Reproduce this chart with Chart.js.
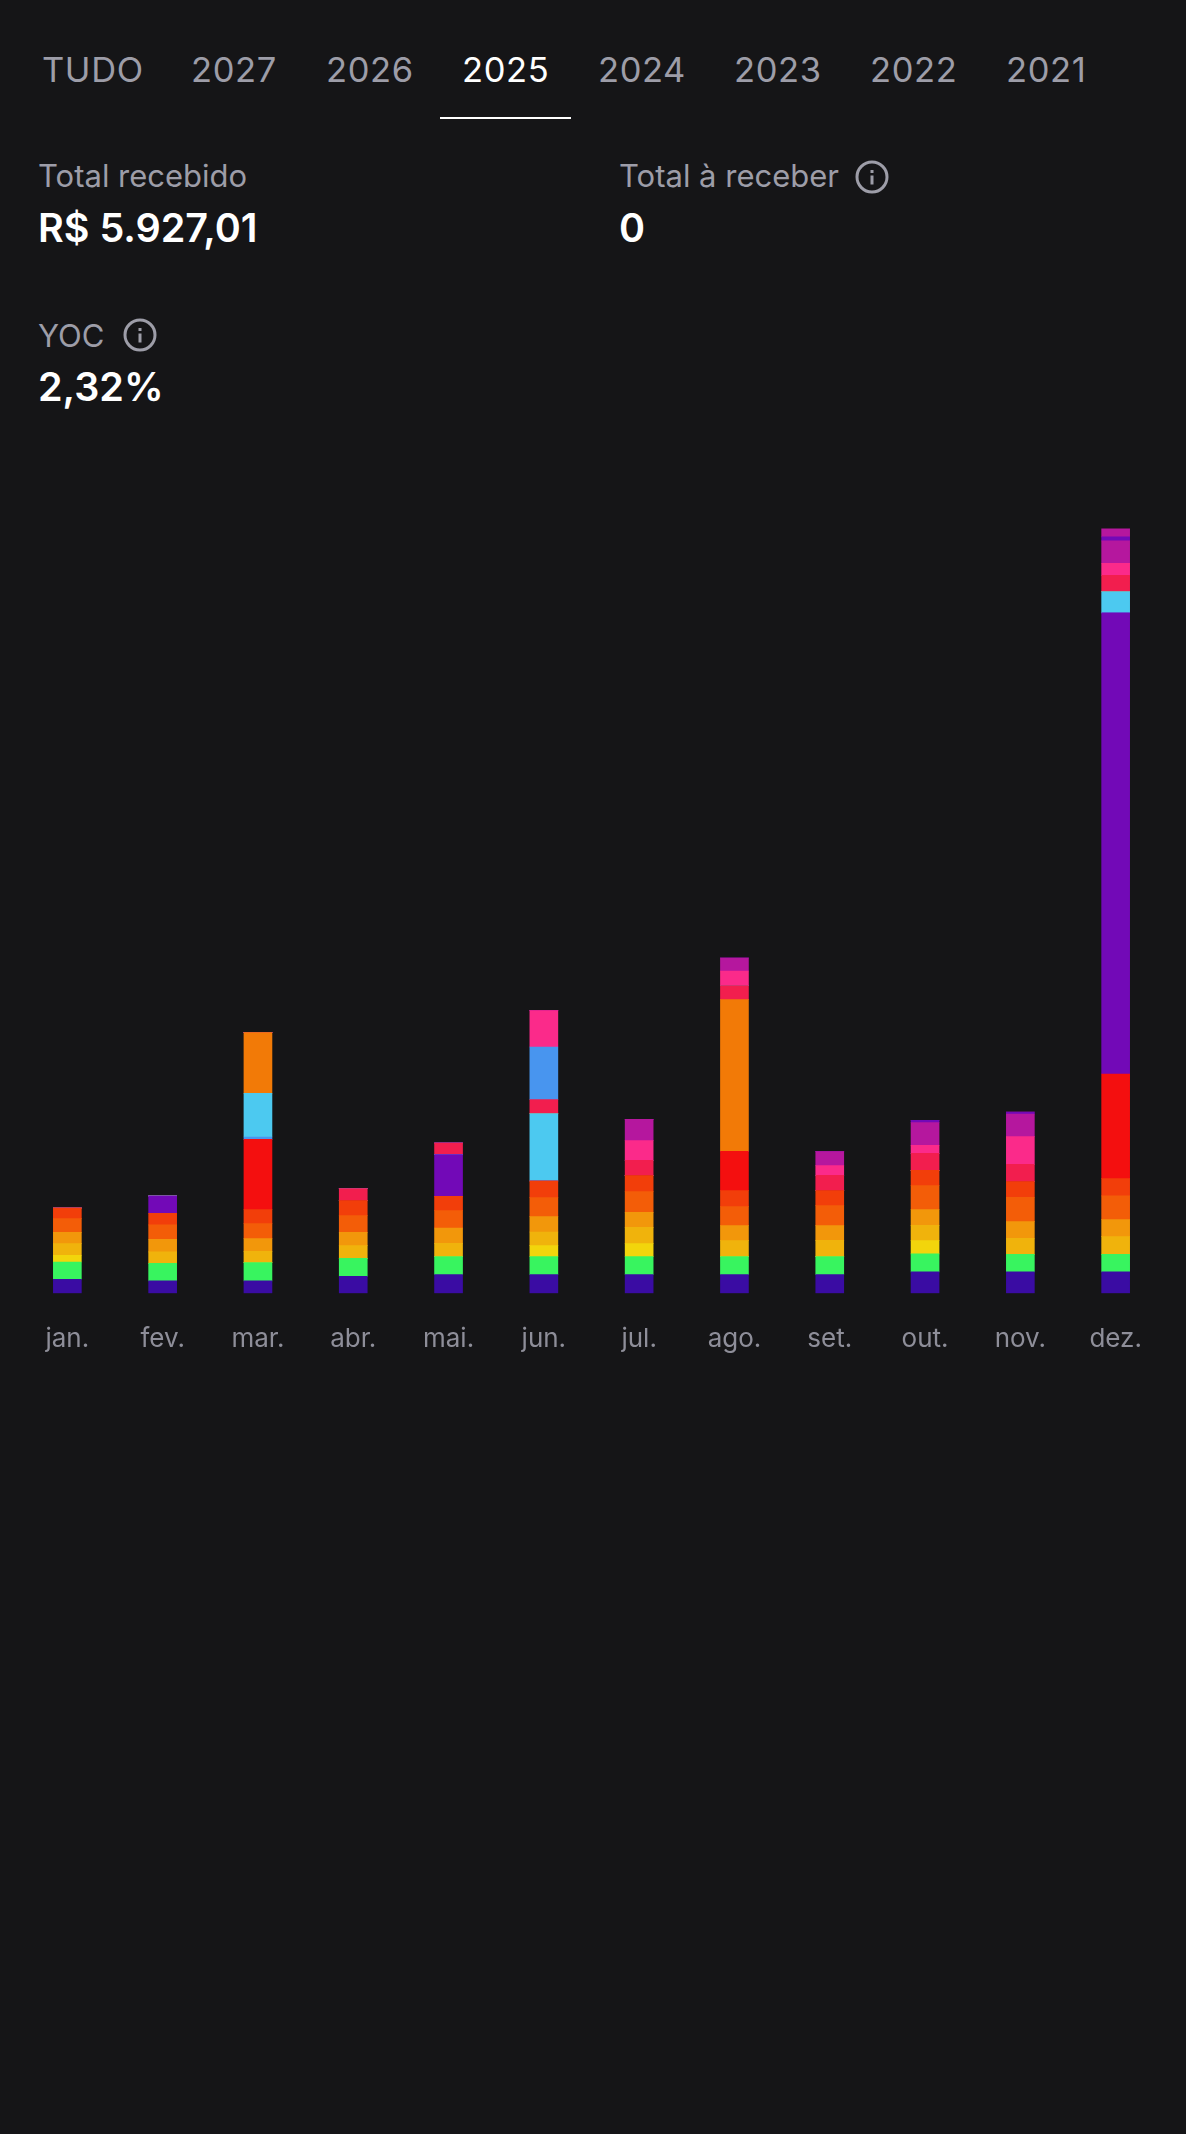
<!DOCTYPE html>
<html lang="pt-BR">
<head>
<meta charset="utf-8">
<title>Proventos 2025</title>
<script src="https://cdn.jsdelivr.net/npm/chart.js@4"></script>
<style>
html, body { margin: 0; padding: 0; background: #151517; }
body { position: relative; width: 1186px; height: 2134px; overflow: hidden; font-family: Inter, sans-serif; }
.t { position: absolute; white-space: nowrap; line-height: 1; transform: translateY(-50%); }
.tab { font-size: 34.5px; font-weight: 400; color: #9d9da8; top: 70px; letter-spacing: 0.6px; }
.tab.on { color: #fff; }
.label { font-size: 31px; color: #9d9da8; }
.value { font-size: 39.5px; font-weight: 600; color: #fff; }
#under { position: absolute; left: 440px; top: 117px; width: 131px; height: 2px; background: #fff; }
svg.i { position: absolute; width: 34px; height: 34px; }
#barChart { position: absolute; left: 0; top: 500px; }
</style>
</head>
<body>
<span class="t tab" style="left:42px">TUDO</span>
<span class="t tab" style="left:191px">2027</span>
<span class="t tab" style="left:326px">2026</span>
<span class="t tab on" style="left:462px">2025</span>
<span class="t tab" style="left:598px">2024</span>
<span class="t tab" style="left:734px">2023</span>
<span class="t tab" style="left:870px">2022</span>
<span class="t tab" style="left:1006px">2021</span>
<div id="under"></div>

<span class="t label" style="left:38px;top:175px">Total recebido</span>
<span class="t value" style="left:38px;top:229px">R$ 5.927,01</span>
<span class="t label" style="left:619px;top:175px">Total à receber</span>
<svg class="i" style="left:855px;top:160px" viewBox="0 0 34 34"><circle cx="17" cy="17" r="15" fill="none" stroke="#9d9da8" stroke-width="3"/><rect x="15.5" y="15.5" width="3" height="9" fill="#9d9da8"/><rect x="15.5" y="10" width="3" height="3" fill="#9d9da8"/></svg>
<span class="t value" style="left:619px;top:229px">0</span>
<span class="t label" style="left:38px;top:335px">YOC</span>
<svg class="i" style="left:123px;top:318px" viewBox="0 0 34 34"><circle cx="17" cy="17" r="15" fill="none" stroke="#9d9da8" stroke-width="3"/><rect x="15.5" y="15.5" width="3" height="9" fill="#9d9da8"/><rect x="15.5" y="10" width="3" height="3" fill="#9d9da8"/></svg>
<span class="t value" style="left:38px;top:388px">2,32%</span>

<canvas id="barChart" width="1186" height="890"></canvas>

<script>
var months = ['jan.', 'fev.', 'mar.', 'abr.', 'mai.', 'jun.', 'jul.', 'ago.', 'set.', 'out.', 'nov.', 'dez.'];

var indigo    = [30.2, 26.6, 26.6, 36.6, 40.2, 40.2, 40.2, 40.2, 40.2, 46.0, 46.0, 46.0];
var green     = [37.3, 38.1, 39.5, 38.8, 38.8, 38.8, 38.8, 38.8, 38.8, 38.8, 38.1, 38.1];
var yellow    = [14.4, 0, 0, 0, 0, 23.7, 28.0, 0, 0, 28.7, 0, 0];
var amber     = [25.1, 24.4, 24.4, 27.3, 28.7, 29.4, 35.2, 34.5, 35.2, 33.0, 34.5, 38.1];
var orange    = [24.4, 27.3, 27.3, 28.7, 33.0, 33.0, 32.3, 32.3, 31.6, 33.8, 35.9, 36.6];
var deep      = [29.4, 30.9, 32.3, 35.9, 37.3, 40.9, 44.5, 40.9, 43.1, 51.7, 52.4, 51.0];
var redOrange = [23.0, 25.1, 30.2, 32.3, 30.9, 35.9, 34.5, 34.5, 32.3, 33.0, 33.8, 37.3];
var red       = [0, 0, 151.5, 0, 0, 0, 0, 84.7, 0, 0, 0, 225.5];
var purpleA   = [0, 37.3, 0, 0, 89.8, 0, 0, 0, 0, 0, 0, 993.3];
var blueA     = [0, 0, 5.0, 0, 0, 0, 0, 0, 0, 0, 0, 0];
var lightBlue = [0, 0, 94.1, 0, 0, 145.1, 0, 0, 0, 0, 0, 46.0];
var bigOrange = [0, 0, 130.7, 0, 0, 0, 0, 326.8, 0, 0, 0, 0];
var crimson   = [0, 0, 0, 25.9, 25.1, 30.2, 33.0, 30.2, 33.0, 36.6, 37.3, 35.2];
var blueB     = [0, 0, 0, 0, 0, 113.5, 0, 0, 0, 0, 0, 0];
var pink      = [0, 0, 0, 0, 0, 78.3, 42.4, 31.6, 20.8, 17.2, 59.6, 25.9];
var magenta   = [0, 0, 0, 0, 0, 0, 46.0, 28.0, 30.2, 48.8, 48.8, 48.1];
var purpleB   = [0, 0, 0, 0, 0, 0, 0, 0, 0, 5.0, 4.3, 8.6];
var magentaB  = [0, 0, 0, 0, 0, 0, 0, 0, 0, 0, 0, 17.2];

function serie(data, color) {
    return { data: data, backgroundColor: color, barThickness: 28, stack: 'a' };
}

var barChart = new Chart(document.getElementById('barChart'), {
    type: 'bar',
    data: {
        labels: months,
        datasets: [
            serie(indigo, '#3a0ca3'),
            serie(green, '#38f45f'),
            serie(yellow, '#f2d50c'),
            serie(amber, '#f0b30c'),
            serie(orange, '#f2970b'),
            serie(deep, '#f35d08'),
            serie(redOrange, '#f23e0a'),
            serie(red, '#f40f0f'),
            serie(purpleA, '#7209b7'),
            serie(blueA, '#4895ef'),
            serie(lightBlue, '#4cc9f0'),
            serie(bigOrange, '#f27a07'),
            serie(crimson, '#f21e4e'),
            serie(blueB, '#4895ef'),
            serie(pink, '#fb2a8a'),
            serie(magenta, '#b5179e'),
            serie(purpleB, '#7209b7'),
            serie(magentaB, '#b5179e')
        ]
    },
    options: {
        responsive: false,
        animation: false,
        layout: { padding: { left: 19.7, right: 22.7, top: 27.5, bottom: 5.5 } },
        plugins: { legend: { display: false }, tooltip: { enabled: false } },
        scales: {
            x: {
                stacked: true,
                grid: { display: false, drawTicks: false },
                border: { display: false },
                ticks: {
                    color: '#8e8e99',
                    padding: 30,
                    maxRotation: 0,
                    autoSkip: false,
                    font: { family: 'Inter', size: 26 }
                }
            },
            y: { stacked: true, display: false, min: 0, max: 1650 }
        }
    }
});
</script>
</body>
</html>
